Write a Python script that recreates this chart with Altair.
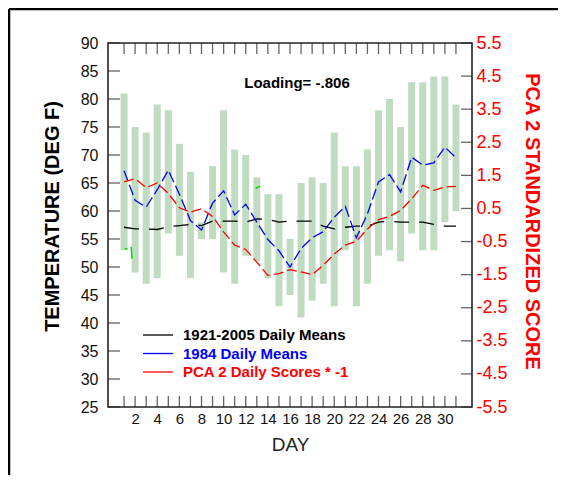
import altair as alt
import pandas as pd

# ---------------- data ----------------
days = list(range(1, 32))
bar_low = [53, 49, 47, 48, 56, 52, 48, 55, 55, 49, 47, 52, 51, 48, 43, 45,
           41, 44, 47, 43, 53, 43, 47, 52, 53, 51, 56, 53, 53, 58, 60]
bar_high = [81, 75, 74, 79, 78, 72, 67, 58, 68, 78, 71, 70, 66, 63, 63, 55,
            65, 66, 65, 74, 68, 68, 71, 78, 80, 75, 83, 83, 84, 84, 79]
mean_1921_2005 = [57.1, 56.8, 56.8, 56.7, 57.2, 57.4, 57.6, 57.4, 58.2, 58.2,
                  58.2, 58.0, 58.6, 58.5, 58.0, 58.2, 58.2, 58.2, 57.3, 56.8,
                  57.1, 57.3, 57.3, 58.0, 58.2, 58.0, 58.0, 58.0, 57.6, 57.3, 57.3]
mean_1984 = [67.2, 61.9, 60.7, 63.8, 67.3, 63.0, 58.3, 56.6, 61.4, 63.6,
             59.3, 61.2, 58.0, 54.9, 52.9, 50.0, 53.3, 55.2, 56.3, 58.9,
             60.8, 55.2, 59.5, 65.2, 66.5, 63.4, 69.6, 68.2, 68.6, 71.4, 69.5]
pca2_neg = [1.30, 1.40, 1.13, 1.27, 0.95, 0.52, 0.39, 0.49, 0.26, -0.21,
            -0.61, -0.74, -1.12, -1.52, -1.47, -1.35, -1.42, -1.50, -1.22, -0.88,
            -0.61, -0.49, -0.12, 0.16, 0.26, 0.44, 0.79, 1.20, 1.05, 1.15, 1.17]
# small stray green fragments visible in the reference
green_day = [1.05, 1.3, 1.65, 1.72, 12.9, 13.3]
green_val = [53.3, 53.2, 53.6, 51.5, 64.1, 64.4]
green_seg = ["a", "a", "b", "b", "c", "c"]

left_ticks = list(range(25, 91, 5))
right_ticks = [-5.5, -4.5, -3.5, -2.5, -1.5, -0.5, 0.5, 1.5, 2.5, 3.5, 4.5, 5.5]
x_labels = list(range(2, 31, 2))

legend_labels = ["1921-2005 Daily Means", "1984 Daily Means", "PCA 2 Daily Scores * -1"]
legend_colors = ["black", "#0000ff", "#ff0000"]
loading_text = "Loading= -.806"

FONT = "Liberation Sans"
W, H = 364, 364

df = pd.DataFrame({"day": days, "low": bar_low, "high": bar_high,
                   "m_all": mean_1921_2005, "m_1984": mean_1984, "pca": pca2_neg})
gdf = pd.DataFrame({"day": green_day, "v": green_val, "seg": green_seg})

xscale = alt.Scale(domain=[0, 32], nice=False, zero=False)
lscale = alt.Scale(domain=[25, 90], nice=False, zero=False)
rscale = alt.Scale(domain=[-5.5, 5.5], nice=False, zero=False)

xaxis = alt.Axis(values=x_labels, ticks=False, domain=False, grid=False,
                 labelFont=FONT, labelFontSize=15, labelColor="#111",
                 labelPadding=4, labelFlush=False, labelOverlap=False,
                 title="DAY", titleFont=FONT, titleFontSize=19,
                 titleFontWeight="normal", titleColor="#222", titlePadding=9)
laxis = alt.Axis(values=left_ticks, ticks=False, domain=False, grid=False,
                 labelFont=FONT, labelFontSize=16, labelColor="#111",
                 labelPadding=10, labelFlush=False, labelOverlap=False,
                 title="TEMPERATURE (DEG F)", titleFont=FONT, titleFontSize=20,
                 titleFontWeight="bold", titleColor="black", titlePadding=18,
                 titleY=173)
raxis = alt.Axis(orient="right", values=right_ticks, ticks=False, domain=False,
                 grid=False, labelFont=FONT, labelFontSize=18, labelColor="#ff0000",
                 labelPadding=4, labelFlush=False, labelOverlap=False,
                 labelExpr="datum.value < 0 ? '-' + format(abs(datum.value), '.1f') : format(datum.value, '.1f')",
                 title="PCA 2 STANDARDIZED SCORE", titleFont=FONT, titleFontSize=20,
                 titleFontWeight="bold", titleColor="#ff0000", titleAngle=90,
                 titlePadding=14, titleY=178)


def X(f):
    return alt.X(f, type="quantitative", scale=xscale, axis=xaxis)


def YL(f):
    return alt.Y(f, type="quantitative", scale=lscale, axis=laxis)


def YR(f):
    return alt.Y(f, type="quantitative", scale=rscale, axis=raxis)


base = alt.Chart(df)
bars = base.mark_bar(size=7, color="#c0dcc0").encode(x=X("day"), y=YL("low"), y2="high")
green = alt.Chart(gdf).mark_line(color="#00dd00", strokeWidth=1.5).encode(
    x=X("day"), y=YL("v"), detail="seg")
black = base.mark_line(color="black", strokeWidth=1.3, strokeDash=[15, 10]).encode(
    x=X("day"), y=YL("m_all"))
blue = base.mark_line(color="#0000ff", strokeWidth=1.3, strokeDash=[11, 4]).encode(
    x=X("day"), y=YL("m_1984"))

tdf = pd.DataFrame({"day": days})
bot_ticks = alt.Chart(tdf).mark_tick(orient="vertical", size=11, thickness=1.3, color="#222").encode(
    x=X("day"), y=alt.value(H - 5.5))
top_ticks = alt.Chart(tdf).mark_tick(orient="vertical", size=11, thickness=1.3, color="#222").encode(
    x=X("day"), y=alt.value(5.5))
lt = alt.Chart(pd.DataFrame({"v": left_ticks})).mark_tick(
    orient="horizontal", size=12, thickness=1.3, color="#222").encode(
    y=YL("v"), x=alt.value(6))

texts = []
loading = alt.Chart(pd.DataFrame({"t": [loading_text]})).mark_text(
    font=FONT, fontSize=15, fontWeight="bold", color="black", align="center",
    baseline="middle").encode(text="t", x=alt.value(189), y=alt.value(40))
texts.append(loading)
leg_y = [292, 310.5, 329]
for lab, col, yy in zip(legend_labels, legend_colors, leg_y):
    d = pd.DataFrame({"t": [lab]})
    texts.append(alt.Chart(d).mark_rule(color=col, strokeWidth=1.3).encode(
        x=alt.value(35), x2=alt.value(65), y=alt.value(yy)))
    texts.append(alt.Chart(d).mark_text(
        font=FONT, fontSize=15, fontWeight="bold", color=col, align="left",
        baseline="middle").encode(text="t", x=alt.value(75), y=alt.value(yy)))

fd = pd.DataFrame({"t": ["frame"]})
frame_left = alt.Chart(fd).mark_rule(color="black", strokeWidth=2.5).encode(
    x=alt.value(-99), y=alt.value(-34), y2=alt.value(700))
frame_top = alt.Chart(fd).mark_rule(color="black", strokeWidth=2.5).encode(
    x=alt.value(-99), x2=alt.value(700), y=alt.value(-34))

left_group = alt.layer(bars, green, black, blue, bot_ticks, top_ticks, lt, *texts,
                       frame_left, frame_top)

red = base.mark_line(color="#ff0000", strokeWidth=1.3, strokeDash=[10, 4]).encode(
    x=X("day"), y=YR("pca"))
rt = alt.Chart(pd.DataFrame({"v": right_ticks})).mark_tick(
    orient="horizontal", size=11, thickness=1.3, color="#222").encode(
    y=YR("v"), x=alt.value(W - 5.5))
right_group = alt.layer(red, rt)

chart = alt.layer(left_group, right_group).resolve_scale(y="independent").properties(
    width=W, height=H,
    padding={"left": 100, "top": 35, "right": 86, "bottom": 68},
    autosize=alt.AutoSizeParams(type="none"),
    background="white",
).configure_view(stroke="#222", strokeWidth=1.6)

chart.save("out.html", embed_options={"renderer": "svg", "actions": False})
